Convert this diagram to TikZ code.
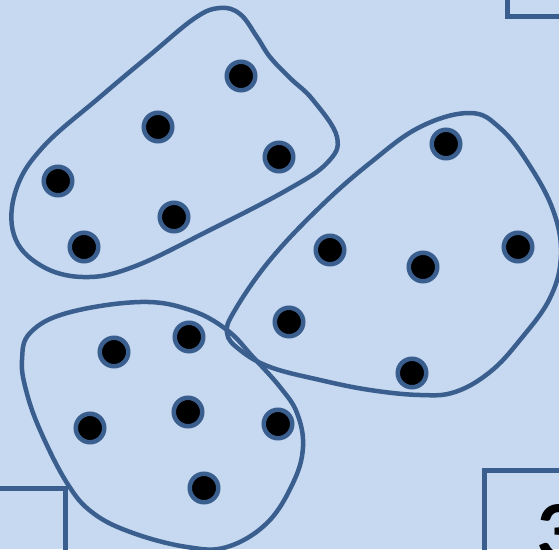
\documentclass[tikz,border=0pt]{standalone}
\usepackage{fontspec}
\newfontfamily\digitfont{Carlito}
\definecolor{bgblue}{HTML}{C6D9F1}
\definecolor{edgeblue}{HTML}{3A5F8F}
\tikzset{
  dot/.style={circle, draw=edgeblue, fill=black, line width=4.5pt, minimum size=28.5pt, inner sep=0pt},
  blob/.style={draw=edgeblue, line width=4.5pt},
  frame/.style={draw=edgeblue, line width=5pt}
}
\begin{document}
\begin{tikzpicture}[x=1pt,y=-1pt]
\useasboundingbox (0,0) rectangle (559,549);
\clip (0,0) rectangle (559,549);
\fill[bgblue] (0,0) rectangle (559,549);
% partial boxes
\draw[frame] (507,-10) -- (507,16) -- (570,16);
\draw[frame] (-10,488) -- (65.5,488) -- (65.5,560);
\draw[frame] (484,560) -- (484,470.5) -- (570,470.5);
\node[anchor=base west, inner sep=0pt, font=\digitfont\bfseries\fontsize{84}{84}\selectfont] (num) at (536,559) {3};
% blobs
\draw[blob] plot[smooth cycle, tension=0.65] coordinates {
 (220,8) (240,14) (257,37) (270,57) (290,78) (313,100) (337,137) (327,163) (287,190) (210,230)
 (133,267) (83,277) (40,265) (14,235) (16,190) (43,147) (100,97) (150,55) (195,18)};
\draw[blob] plot[smooth cycle, tension=0.65] coordinates {
 (470,113) (420,127) (370,163) (320,207) (270,260) (235,310) (227,333) (240,350)
 (270,367) (320,380) (370,390) (420,395) (455,392) (490,372) (520,340) (550,298)
 (561,255) (553,210) (528,163) (500,128)};
\draw[blob] plot[smooth cycle, tension=0.65] coordinates {
 (140,302) (67,313) (30,333) (22,360) (26,390) (40,430) (67,483) (93,513)
 (133,533) (187,547) (227,547) (267,523) (293,483) (303,447) (297,413) (280,387)
 (253,357) (227,330) (190,310)};
% dots
\node[dot] (a1) at (241,76) {};
\node[dot] (a2) at (158,127) {};
\node[dot] (a3) at (279,157) {};
\node[dot] (a4) at (58,181) {};
\node[dot] (a5) at (174,217) {};
\node[dot] (a6) at (84,247) {};
\node[dot] (b1) at (446,144) {};
\node[dot] (b2) at (330,250) {};
\node[dot] (b3) at (423,267) {};
\node[dot] (b4) at (518,247) {};
\node[dot] (b5) at (289,322) {};
\node[dot] (b6) at (412,373) {};
\node[dot] (c1) at (114,352) {};
\node[dot] (c2) at (189,337) {};
\node[dot] (c3) at (90,428) {};
\node[dot] (c4) at (188,412) {};
\node[dot] (c5) at (278,424) {};
\node[dot] (c6) at (204,488) {};
\end{tikzpicture}
\end{document}
